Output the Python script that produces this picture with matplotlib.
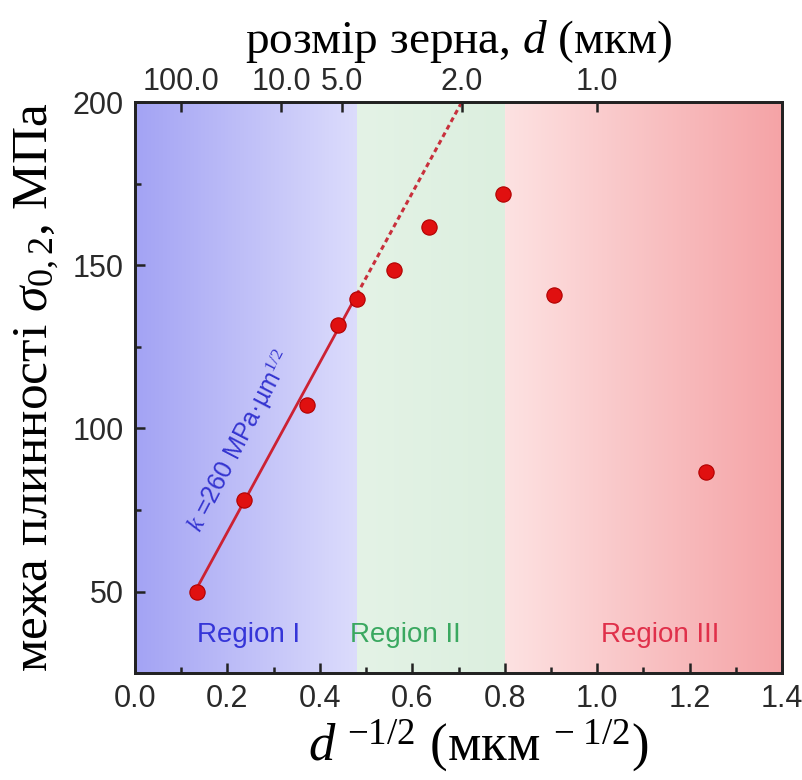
import numpy as np
import matplotlib
matplotlib.use("Agg")
import matplotlib.pyplot as plt
from matplotlib.colors import LinearSegmentedColormap

# ---- data ----
x_vals = [0.134, 0.236, 0.372, 0.440, 0.480, 0.560, 0.636, 0.797, 0.907, 1.236]
y_vals = [50.0, 78.2, 107.1, 131.6, 139.6, 148.5, 161.7, 172.0, 140.8, 86.8]
fit_x0, fit_y0, fit_k = 0.13, 50.0, 260.0
fit_solid_end = 0.48
fit_dash_end = 0.707
top_d = [100.0, 10.0, 5.0, 2.0, 1.0]
top_labels = ["100.0", "10.0", "5.0", "2.0", "1.0"]
region_bounds = [0.0, 0.48, 0.80, 1.4]
region_names = ["Region I", "Region II", "Region III"]

serif = ["Liberation Serif", "DejaVu Serif"]
sans = ["Liberation Sans", "DejaVu Sans"]
plt.rcParams["font.family"] = sans
plt.rcParams["mathtext.fontset"] = "custom"
plt.rcParams["mathtext.rm"] = "Liberation Serif"
plt.rcParams["mathtext.it"] = "Liberation Serif:italic"

fig = plt.figure(figsize=(8.03, 7.80), dpi=100)
ax = fig.add_axes([0.168, 0.137, 0.806, 0.732])
ax.set_xlim(0, 1.4)
ax.set_ylim(25, 200)

# gradient backgrounds
def grad(x0, x1, c0, c1):
    cmap = LinearSegmentedColormap.from_list("g", [c0, c1])
    img = np.linspace(0, 1, 256).reshape(1, -1)
    ax.imshow(img, cmap=cmap, extent=[x0, x1, 25, 200], aspect="auto",
              zorder=0, interpolation="bilinear")

grad(region_bounds[0], region_bounds[1], "#a3a3f4", "#dcdcfc")
grad(region_bounds[1], region_bounds[2], "#e4f3e6", "#dcefdf")
grad(region_bounds[2], region_bounds[3], "#fde2e2", "#f5a3a6")

# fit line
xs = np.array([fit_x0, fit_solid_end])
ax.plot(xs, fit_y0 + fit_k * (xs - fit_x0), color="#cc2233", lw=2, zorder=2)
xd = np.array([fit_solid_end, fit_dash_end])
ax.plot(xd, fit_y0 + fit_k * (xd - fit_x0), color="#c8303c", lw=2.2,
        ls=(0, (1.6, 1.2)), zorder=2)

# points
ax.plot(x_vals, y_vals, "o", ms=11, mfc="#e01010", mec="#b00000", mew=0.8,
        zorder=3)

# annotation
ax.text(0.227, 96, r"$k$ =260 MPa·µm$^{1/2}$", color="#3434d0", fontsize=18,
        rotation=62.5, rotation_mode="anchor", ha="center", va="center",
        family=sans)

region_colors = ["#3535d8", "#3aa860", "#e0304a"]
region_x = [0.245, 0.585, 1.137]
for name, c, xx in zip(region_names, region_colors, region_x):
    ax.text(xx, 36.8, name, color=c, fontsize=20, ha="center", va="center")

# ticks
ax.set_xticks(np.arange(0, 1.41, 0.2))
ax.set_xticklabels([f"{v:.1f}" for v in np.arange(0, 1.41, 0.2)])
ax.set_xticks(np.arange(0.1, 1.4, 0.2), minor=True)
ax.set_yticks([50, 100, 150, 200])
ax.set_yticks([75, 125, 175], minor=True)
ax.tick_params(which="both", direction="in", labelsize=22, colors="#222222",
               width=1.8, top=False, right=False, pad=8)
ax.tick_params(which="major", length=7)
ax.tick_params(which="minor", length=4)
for t in ax.get_xticklabels() + ax.get_yticklabels():
    t.set_color("#2a2a2a")
for s in ax.spines.values():
    s.set_linewidth(2)
    s.set_color("#222222")

ax.set_xlabel(r"$d^{\ \mathit{-1/2}}$ (мкм $^{-\ 1/2}$)", fontsize=38,
              family=serif, labelpad=2)
ax.xaxis.label.set_x(0.53)
ax.set_ylabel(r"межа плинності $\sigma_{0,2}$, МПа", fontsize=37,
              family=serif, labelpad=8)

# top axis
ax2 = ax.twiny()
ax2.set_xlim(ax.get_xlim())
ax2.set_xticks(np.array(top_d) ** -0.5)
ax2.set_xticklabels(top_labels)
ax2.tick_params(direction="in", labelsize=22, length=7, width=1.8,
                colors="#222222", pad=4)
for t in ax2.get_xticklabels():
    t.set_color("#2a2a2a")
ax2.set_xlabel(r"розмір зерна, $d$ (мкм)", fontsize=34, family=serif,
               labelpad=10)
for s in ax2.spines.values():
    s.set_linewidth(2)
    s.set_color("#222222")

fig.savefig("out.png", dpi=100)
